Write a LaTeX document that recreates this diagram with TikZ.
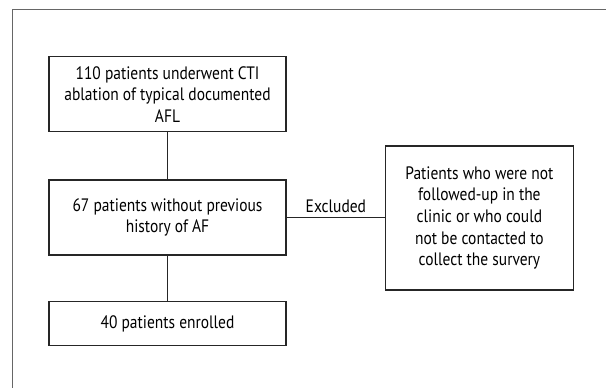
\documentclass[tikz,border=0pt]{standalone}
\usepackage{fontspec}
\setmainfont{PT Sans}[FakeStretch=0.86]
\begin{document}
\begin{tikzpicture}[x=1pt,y=-1pt,
  box/.style={draw=black!85,line width=1.1pt,fill=white,align=center,inner sep=0pt,
    font=\fontsize{18}{21.6}\selectfont},
  conn/.style={draw=black!85,line width=0.9pt},
  frameline/.style={draw=black!60,line width=0.9pt}]
\useasboundingbox (0,0) rectangle (606,388);
\draw[frameline] (12.7,388) -- (12.7,9.5) -- (606,9.5);
\node[box,minimum width=237pt,minimum height=75pt] (b1) at (167.5,94.2)
  {110 patients underwent CTI\\ablation of typical documented\\AFL};
\node[box,minimum width=237pt,minimum height=75pt] (b2) at (167.5,217.5)
  {67 patients without previous\\history of AF};
\node[box,minimum width=237pt,minimum height=43.3pt] (b3) at (167.5,323.4)
  {40 patients enrolled};
\node[box,minimum width=187.3pt,minimum height=144pt] (ex) at (479.4,218)
  {Patients who were not\\followed-up in the\\clinic or who could\\not be contacted to\\collect the survery};
\draw[conn] (b2.east) -- node[above=1pt,font=\fontsize{18}{21.6}\selectfont] (exl) {Excluded} (ex.west |- b2.east);
\draw[conn] (b1.south) -- (b2.north);
\draw[conn] (b2.south) -- (b3.north);
\end{tikzpicture}
\end{document}
